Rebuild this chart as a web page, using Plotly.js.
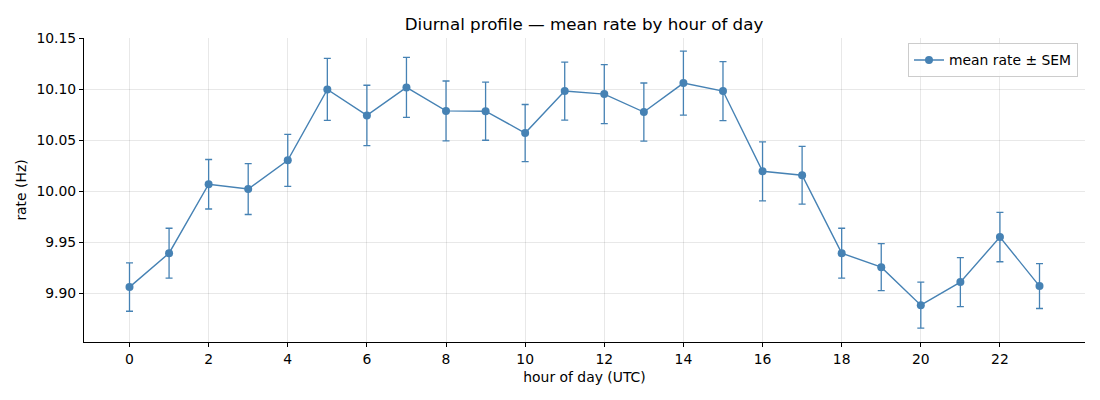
<!DOCTYPE html>
<html>
<head>
<meta charset="utf-8">
<script src="https://cdn.plot.ly/plotly-3.0.1.min.js"></script>
<style>
  html, body { margin: 0; padding: 0; background: #ffffff; }
  #plot { width: 1100px; height: 400px; }
</style>
</head>
<body>
<div id="plot"></div>
<script>
  const hours = [0, 1, 2, 3, 4, 5, 6, 7, 8, 9, 10, 11, 12, 13, 14, 15, 16, 17, 18, 19, 20, 21, 22, 23];
  const meanRate = [
    9.9059, 9.9392, 10.0069, 10.0022, 10.0304, 10.1000, 10.0745, 10.1020,
    10.0789, 10.0786, 10.0572, 10.0984, 10.0954, 10.0778, 10.1062, 10.0984,
    10.0196, 10.0157, 9.9392, 9.9255, 9.8882, 9.9108, 9.9550, 9.9069,
  ];
  const semRate = [
    0.0237, 0.0245, 0.0243, 0.0250, 0.0255, 0.0304, 0.0296, 0.0294,
    0.0294, 0.0285, 0.0280, 0.0285, 0.0290, 0.0285, 0.0314, 0.0290,
    0.0290, 0.0284, 0.0245, 0.0230, 0.0225, 0.0240, 0.0242, 0.0220,
  ];
  const xTicks = [0, 2, 4, 6, 8, 10, 12, 14, 16, 18, 20, 22];
  const yTicks = [9.90, 9.95, 10.00, 10.05, 10.10, 10.15];

  const color = "#4682b4";
  const font = "DejaVu Sans, Liberation Sans, sans-serif";

  const trace = {
    x: hours,
    y: meanRate,
    type: "scatter",
    mode: "lines+markers",
    name: "mean rate ± SEM",
    line: { color: color, width: 1.4 },
    marker: { color: color, size: 8 },
    error_y: {
      type: "data",
      array: semRate,
      visible: true,
      color: color,
      thickness: 1.3,
      width: 3.5,
    },
  };

  const axisBase = {
    showgrid: true,
    gridcolor: "rgba(0,0,0,0.09)",
    gridwidth: 1,
    zeroline: false,
    showline: true,
    linecolor: "#000000",
    linewidth: 1,
    mirror: false,
    ticks: "outside",
    ticklen: 4,
    tickwidth: 1,
    tickcolor: "#000000",
    tickfont: { family: font, size: 13.9, color: "#000000" },
  };

  const layout = {
    width: 1100,
    height: 400,
    margin: { t: 38, r: 15, b: 58, l: 84 },
    paper_bgcolor: "#ffffff",
    plot_bgcolor: "#ffffff",
    font: { family: font, color: "#000000" },
    title: {
      text: "Diurnal profile — mean rate by hour of day",
      font: { family: font, size: 16.7, color: "#000000" },
      x: 0.5 + 34 / 1100,
      xref: "container",
      y: 1 - 24 / 400,
      yref: "container",
      yanchor: "middle",
    },
    showlegend: true,
    legend: {
      x: 0.993,
      y: 0.982,
      xanchor: "right",
      yanchor: "top",
      bgcolor: "rgba(255,255,255,0.8)",
      bordercolor: "#cccccc",
      borderwidth: 1,
      font: { family: font, size: 13.9, color: "#000000" },
    },
    xaxis: Object.assign({}, axisBase, {
      range: [-1.15, 24.15],
      tickvals: xTicks,
      ticktext: xTicks.map(String),
      title: { text: "hour of day (UTC)", font: { family: font, size: 13.9 }, standoff: 6 },
    }),
    yaxis: Object.assign({}, axisBase, {
      range: [9.852, 10.1505],
      tickvals: yTicks,
      ticktext: yTicks.map((v) => v.toFixed(2)),
      title: { text: "rate (Hz)", font: { family: font, size: 13.9 }, standoff: 6 },
    }),
  };

  Plotly.newPlot("plot", [trace], layout, { displayModeBar: false, staticPlot: true });
</script>
</body>
</html>
